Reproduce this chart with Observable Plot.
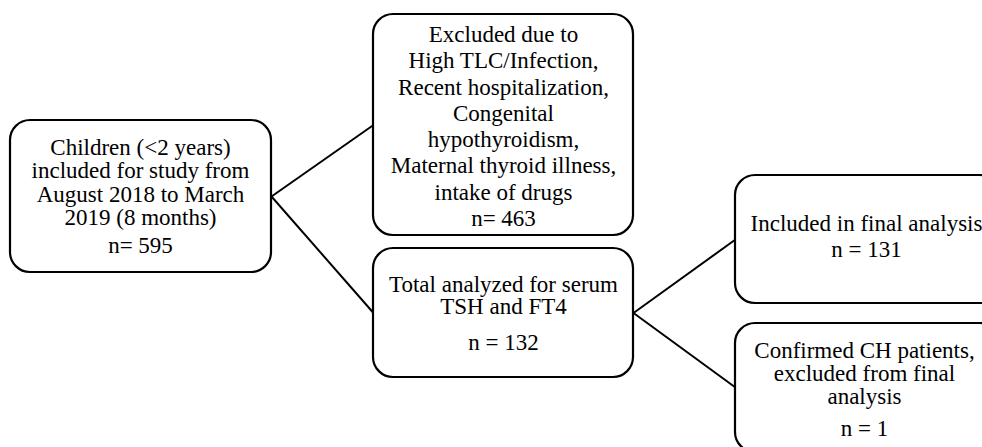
<!DOCTYPE html>
<html><head><meta charset="utf-8">
<script src="https://cdn.jsdelivr.net/npm/d3@7"></script>
<script src="https://cdn.jsdelivr.net/npm/@observablehq/plot@0.6"></script>
<style>
html,body{margin:0;padding:0;background:#fff;overflow:hidden;font-family:"Liberation Serif",serif}
#chart text, #chart tspan{font-family:"Liberation Serif",serif !important}
</style>
</head><body><div id="chart"></div>
<script>
// ---- data ----
const stages = ["enrolled", "excluded", "analyzed", "final", "confirmed"];
const labels = [
  "Children (<2 years)\nincluded for study from\nAugust 2018 to March\n2019 (8 months)",
  "Excluded due to\nHigh TLC/Infection,\nRecent hospitalization,\nCongenital\nhypothyroidism,\nMaternal thyroid illness,\nintake of drugs",
  "Total analyzed for serum\nTSH and FT4",
  "Included in final analysis",
  "Confirmed CH patients,\nexcluded from final\nanalysis"
];
const counts = ["n= 595", "n= 463", "n = 132", "n = 131", "n = 1"];
const links = [["enrolled", "excluded"], ["enrolled", "analyzed"], ["analyzed", "final"], ["analyzed", "confirmed"]];

// ---- layout (pixel space of the flowchart) ----
const layout = {
  enrolled:  {x1: 10,  x2: 271,  y1: 120, y2: 272, cx: 140, labelY: 182, countY: 245, lh: 1.01},
  excluded:  {x1: 373, x2: 633,  y1: 14,  y2: 235, cx: 503, labelY: 112, countY: 218, lh: 1.14},
  analyzed:  {x1: 373, x2: 633,  y1: 248, y2: 377, cx: 503, labelY: 295, countY: 342, lh: 0.96},
  final:     {x1: 735, x2: 1000, y1: 175, y2: 303, cx: 866, labelY: 223, countY: 249, lh: 1.0},
  confirmed: {x1: 735, x2: 1000, y1: 323, y2: 452, cx: 864, labelY: 373, countY: 428, lh: 1.0}
};

const boxes = stages.map((s, i) => ({stage: s, label: labels[i], count: counts[i], ...layout[s]}));
const edges = links.map(([a, b]) => ({
  x1: layout[a].x2, y1: (layout[a].y1 + layout[a].y2) / 2,
  x2: layout[b].x1, y2: (layout[b].y1 + layout[b].y2) / 2
}));
// the right column boxes are cut by the page edge; their link targets use visible centres
edges[2].y2 = 239; edges[3].y2 = 387;

const font = "Liberation Serif";
const fs = 23;
const textMarks = boxes.map(b => Plot.text([b], {
  x: "cx", y: "labelY", text: "label", fontFamily: font, fontSize: fs,
  lineHeight: b.lh, fill: "black"
}));
const countMarks = boxes.map(b => Plot.text([b], {
  x: "cx", y: "countY", text: "count", fontFamily: font, fontSize: fs, fill: "black"
}));

const chart = Plot.plot({
  width: 982, height: 447,
  marginTop: 0, marginRight: 0, marginBottom: 0, marginLeft: 0,
  x: {type: "linear", domain: [0, 982], range: [0, 982], axis: null},
  y: {type: "linear", domain: [0, 447], range: [0, 447], axis: null},
  style: {background: "white"},
  marks: [
    Plot.link(edges, {x1: "x1", y1: "y1", x2: "x2", y2: "y2", stroke: "black", strokeWidth: 2}),
    Plot.rect(boxes, {x1: "x1", x2: "x2", y1: "y1", y2: "y2", rx: 20, ry: 20, fill: "white", stroke: "black", strokeWidth: 2.2}),
    ...textMarks,
    ...countMarks
  ]
});
d3.select(chart).attr("font-family", font);
document.getElementById("chart").appendChild(chart);
</script>
</body></html>
